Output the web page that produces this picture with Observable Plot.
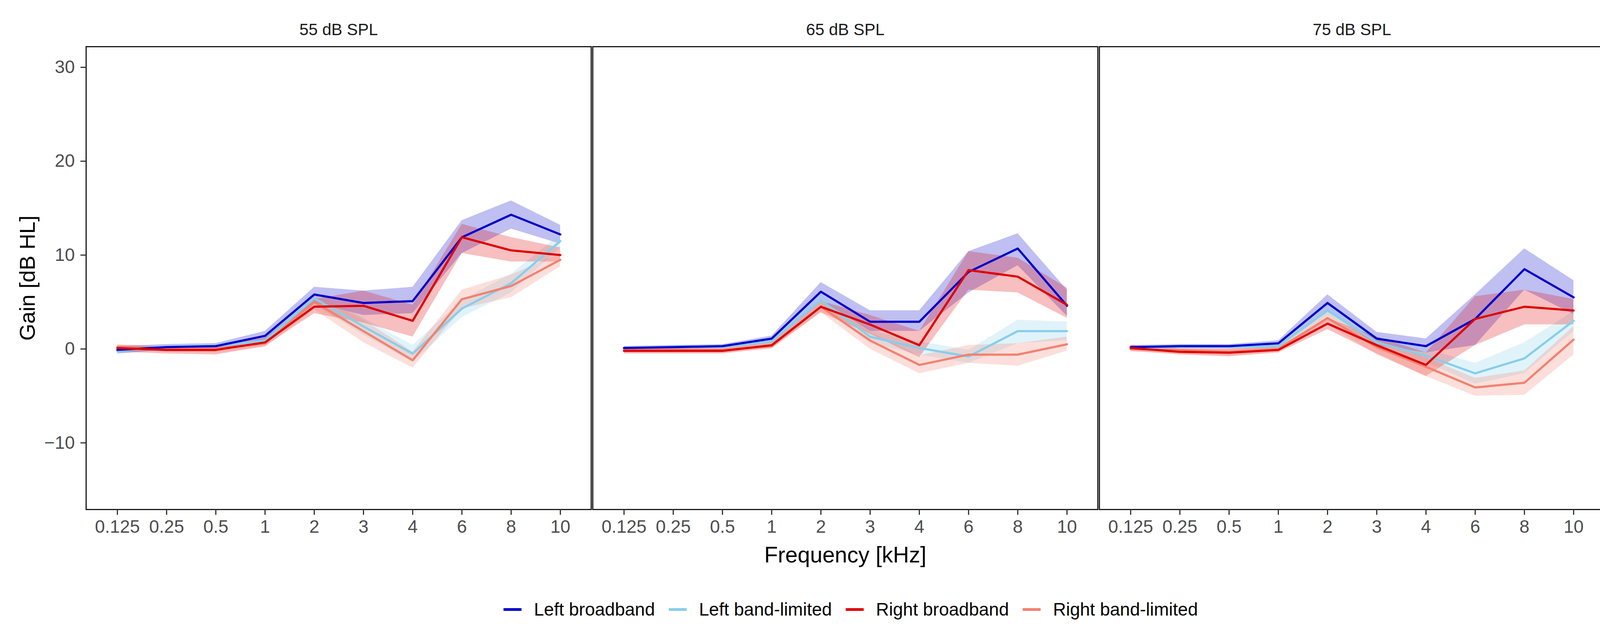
<!DOCTYPE html>
<html><head><meta charset="utf-8">
<script src="https://cdn.jsdelivr.net/npm/d3@7"></script>
<script src="https://cdn.jsdelivr.net/npm/@observablehq/plot@0.6"></script>
<style>
html,body{margin:0;padding:0;background:#fff;}
#wrap{position:relative;width:4151px;height:1636px;font-family:"Liberation Sans",Arial,sans-serif;background:#fff;}
#legend{position:absolute;left:1289px;top:1530px;height:60px;display:flex;align-items:center;font-size:46px;color:#000;white-space:nowrap;}
.item{display:flex;align-items:center;margin-right:35px;}
.key{width:46px;height:7px;margin-right:32px;}
svg [aria-label="x-axis tick label"], svg [aria-label="y-axis tick label"]{fill:#4d4d4d;}
</style></head><body><div id="wrap"><div id="chart"></div><div id="legend"></div></div>
<script>
const freqs = ["0.125","0.25","0.5","1","2","3","4","6","8","10"];
const levels = ["55 dB SPL","65 dB SPL","75 dB SPL"];
const seriesNames = ["Left broadband","Left band-limited","Right broadband","Right band-limited"];
const seriesColors = ["#0000CD","#87CEEB","#E00000","#F4806F"];
const yTicks = [-10,0,10,20,30];

// 55 dB SPL
const lb55   = [-0.1, 0.2, 0.3, 1.4, 5.8, 4.9, 5.1, 11.9, 14.3, 12.2];
const lb55lo = [-0.5,-0.1, 0.0, 0.9, 4.9, 3.6, 3.8, 10.2, 12.8, 11.2];
const lb55hi = [ 0.3, 0.5, 0.6, 1.9, 6.6, 6.2, 6.6, 13.7, 15.8, 13.2];
const lbl55   = [-0.2, 0.2, 0.3, 0.9, 5.4, 2.4,-0.5, 4.3, 7.0, 11.5];
const lbl55lo = [-0.5,-0.1, 0.0, 0.5, 4.7, 1.5,-1.4, 3.4, 6.0, 10.8];
const lbl55hi = [ 0.1, 0.5, 0.6, 1.3, 6.0, 3.3, 0.4, 5.2, 8.0, 12.2];
const rb55   = [ 0.1,-0.1,-0.1, 0.7, 4.5, 4.6, 3.0, 11.9, 10.5, 10.0];
const rb55lo = [-0.3,-0.5,-0.6, 0.3, 3.8, 2.8, 1.3, 10.2, 9.3, 9.3];
const rb55hi = [ 0.4, 0.2, 0.3, 1.2, 5.3, 6.2, 4.7, 13.3, 11.9, 10.8];
const rbl55   = [ 0.2, 0.0, 0.0, 0.6, 5.0, 1.9,-1.2, 5.3, 6.7, 9.5];
const rbl55lo = [-0.2,-0.3,-0.4, 0.2, 4.2, 0.7,-2.0, 4.3, 5.5, 8.8];
const rbl55hi = [ 0.5, 0.3, 0.3, 1.0, 5.8, 3.1,-0.3, 6.3, 7.9, 10.2];

// 65 dB SPL
const lb65   = [ 0.1, 0.2, 0.3, 1.1, 6.1, 2.9, 2.9, 8.2, 10.7, 4.6];
const lb65lo = [-0.1, 0.0, 0.1, 0.8, 5.2, 1.9, 1.9, 6.0, 8.9, 3.5];
const lb65hi = [ 0.3, 0.4, 0.5, 1.4, 7.1, 4.1, 4.1, 10.4, 12.3, 6.3];
const lbl65   = [ 0.1, 0.2, 0.2, 0.8, 5.2, 1.3, 0.1,-0.8, 1.9, 1.9];
const lbl65lo = [-0.1, 0.0, 0.0, 0.5, 4.6, 0.6,-0.6,-1.5, 0.6, 0.9];
const lbl65hi = [ 0.3, 0.4, 0.4, 1.1, 5.8, 2.0, 0.8,-0.1, 3.1, 2.9];
const rb65   = [-0.2,-0.2,-0.2, 0.4, 4.5, 2.6, 0.4, 8.4, 7.7, 4.7];
const rb65lo = [-0.5,-0.5,-0.5, 0.1, 3.9, 1.6,-0.9, 6.3, 6.0, 3.3];
const rb65hi = [ 0.1, 0.1, 0.1, 0.8, 5.1, 3.6, 1.9, 10.4, 9.7, 6.5];
const rbl65   = [-0.1,-0.1,-0.1, 0.3, 4.5, 0.9,-1.7,-0.6,-0.6, 0.5];
const rbl65lo = [-0.4,-0.4,-0.4, 0.0, 3.9, 0.0,-2.6,-1.5,-1.8,-0.2];
const rbl65hi = [ 0.2, 0.2, 0.2, 0.6, 5.1, 1.8,-0.7, 0.4, 0.6, 1.3];

// 75 dB SPL
const lb75   = [ 0.2, 0.3, 0.3, 0.6, 4.9, 1.1, 0.3, 3.2, 8.5, 5.5];
const lb75lo = [ 0.0, 0.1, 0.1, 0.3, 4.1, 0.4,-0.4, 0.4, 6.3, 3.7];
const lb75hi = [ 0.4, 0.5, 0.5, 0.9, 5.8, 1.8, 1.1, 5.8, 10.7, 7.3];
const lbl75   = [ 0.1, 0.2, 0.2, 0.3, 4.1, 0.7,-0.7,-2.6,-1.0, 3.0];
const lbl75lo = [-0.1, 0.0, 0.0, 0.0, 3.5, 0.0,-1.4,-3.7,-2.6, 1.9];
const lbl75hi = [ 0.3, 0.4, 0.4, 0.6, 4.7, 1.4, 0.0,-1.5, 0.7, 4.0];
const rb75   = [ 0.1,-0.3,-0.4,-0.1, 2.7, 0.4,-1.7, 3.2, 4.5, 4.1];
const rb75lo = [-0.2,-0.6,-0.8,-0.4, 2.1,-0.5,-2.9, 0.4, 2.6, 2.6];
const rb75hi = [ 0.4, 0.0, 0.0, 0.2, 3.3, 1.3,-0.4, 5.6, 6.3, 5.3];
const rbl75   = [ 0.0,-0.1,-0.3, 0.0, 3.3, 0.2,-1.9,-4.1,-3.6, 1.0];
const rbl75lo = [-0.3,-0.5,-0.7,-0.3, 2.6,-0.6,-2.9,-5.0,-4.9,-0.6];
const rbl75hi = [ 0.3, 0.3, 0.1, 0.3, 4.0, 1.0,-0.9,-3.1,-2.3, 2.4];

const table = [
  [levels[0], seriesNames[0], lb55, lb55lo, lb55hi],
  [levels[0], seriesNames[1], lbl55, lbl55lo, lbl55hi],
  [levels[0], seriesNames[2], rb55, rb55lo, rb55hi],
  [levels[0], seriesNames[3], rbl55, rbl55lo, rbl55hi],
  [levels[1], seriesNames[0], lb65, lb65lo, lb65hi],
  [levels[1], seriesNames[1], lbl65, lbl65lo, lbl65hi],
  [levels[1], seriesNames[2], rb65, rb65lo, rb65hi],
  [levels[1], seriesNames[3], rbl65, rbl65lo, rbl65hi],
  [levels[2], seriesNames[0], lb75, lb75lo, lb75hi],
  [levels[2], seriesNames[1], lbl75, lbl75lo, lbl75hi],
  [levels[2], seriesNames[2], rb75, rb75lo, rb75hi],
  [levels[2], seriesNames[3], rbl75, rbl75lo, rbl75hi]
];
const rows = [];
for (const [level, series, m, lo, hi] of table) {
  freqs.forEach((f, i) => rows.push({level, series, freq: f, mean: m[i], lo: lo[i], hi: hi[i]}));
}
const ribbonOrder = ["Left broadband","Left band-limited","Right broadband","Right band-limited"];
const lineOrder = ["Left band-limited","Right band-limited","Left broadband","Right broadband"];

const marks = [];
for (const s of ribbonOrder) {
  marks.push(Plot.areaY(rows.filter(d => d.series === s), {fx: "level", x: "freq", y1: "lo", y2: "hi", fill: "series", fillOpacity: 0.25}));
}
for (const s of lineOrder) {
  marks.push(Plot.line(rows.filter(d => d.series === s), {fx: "level", x: "freq", y: "mean", stroke: "series", strokeWidth: 5.5}));
}
marks.push(Plot.frame({stroke: "#1a1a1a", strokeWidth: 3}));
marks.push(Plot.axisX({tickSize: 14, tickPadding: 13, strokeWidth: 3, stroke: "#333", fontSize: 46, label: null}));
marks.push(Plot.axisY({ticks: yTicks, tickSize: 14, tickPadding: 15, strokeWidth: 3, stroke: "#333", fontSize: 46, label: null}));
marks.push(Plot.text(levels, {fx: d => d, text: d => d, frameAnchor: "top", textAnchor: "middle", lineAnchor: "middle", dy: -43, fontSize: 42, fill: "#1a1a1a"}));
marks.push(Plot.text([{t: "Gain [dB HL]", f: levels[0]}], {fx: "f", text: "t", frameAnchor: "left", textAnchor: "middle", lineAnchor: "middle", dx: -149, rotate: -90, fontSize: 56, fill: "#000"}));
marks.push(Plot.text([{t: "Frequency [kHz]", f: levels[1]}], {fx: "f", text: "t", frameAnchor: "bottom", textAnchor: "middle", lineAnchor: "middle", dy: 117, fontSize: 57, fill: "#000"}));

const chart = Plot.plot({
  width: 4151,
  height: 1470,
  marginLeft: 219,
  marginRight: 43,
  marginTop: 119,
  marginBottom: 166,
  style: {fontFamily: "'Liberation Sans', Arial, sans-serif", fontSize: "46px", background: "#fff", overflow: "visible"},
  fx: {domain: levels, range: [219, 4108], paddingInner: 0.003, paddingOuter: 0, axis: null, label: null},
  x: {type: "point", domain: freqs, padding: 0.6, axis: null},
  y: {domain: [-17.1, 32.2], axis: null},
  color: {domain: seriesNames, range: seriesColors},
  marks
});
document.getElementById("chart").appendChild(chart);

const legend = document.getElementById("legend");
seriesNames.forEach((s, i) => {
  const item = document.createElement("div");
  item.className = "item";
  const key = document.createElement("div");
  key.className = "key";
  key.style.background = seriesColors[i];
  const label = document.createElement("span");
  label.textContent = s;
  item.appendChild(key);
  item.appendChild(label);
  legend.appendChild(item);
});
</script></body></html>
